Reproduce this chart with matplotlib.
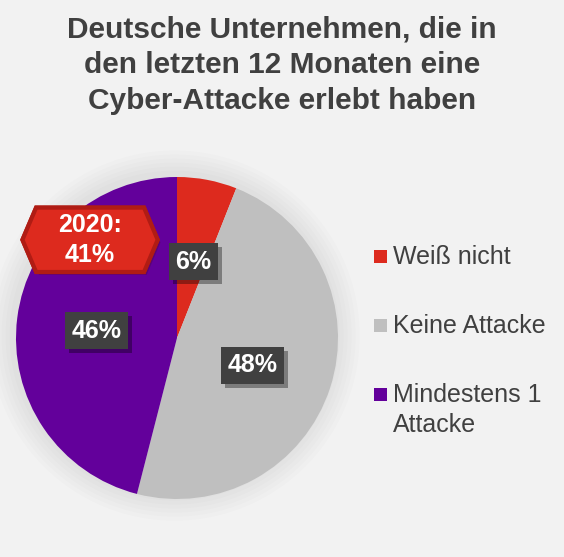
import matplotlib
matplotlib.use("Agg")
import matplotlib.pyplot as plt
from matplotlib.patches import Polygon, Rectangle, Circle
import matplotlib.patheffects as pe

plt.rcParams['font.family'] = ['Liberation Sans', 'DejaVu Sans']

# data
categories = ["Weiß nicht", "Keine Attacke", "Mindestens 1\nAttacke"]
values = [6, 48, 46]
colors = ["#dd2a1e", "#bfbfbf", "#63009b"]
label_texts = ["6%", "48%", "46%"]
prev_year_label = "2020:\n41%"
title = "Deutsche Unternehmen, die in\nden letzten 12 Monaten eine\nCyber-Attacke erlebt haben"

bg = "#f2f2f2"
W, H = 564, 557
fig = plt.figure(figsize=(W / 100, H / 100), dpi=100, facecolor=bg)

# pie axes: center (177, 338) px, radius 161 px
cx, cy, r = 177, 338, 161
ax = fig.add_axes([(cx - r) / W, (H - cy - r) / H, 2 * r / W, 2 * r / H])

# soft shadow behind the pie
for i in range(6):
    ax.add_patch(Circle((-0.015, 0.015), 1.0 + 0.025 * (i + 1), color="black", alpha=0.012,
                        lw=0, zorder=0, clip_on=False))

wedges, _ = ax.pie(values, colors=colors, startangle=90, counterclock=False,
                   radius=1.0, wedgeprops=dict(linewidth=0))
for w in wedges:
    w.set_zorder(1)
ax.set_xlim(-1, 1)
ax.set_ylim(-1, 1)
ax.set_aspect("equal")
ax.axis("off")

# value labels in dark boxes
label_pos = [(0.10, 0.475), (0.47, -0.17), (-0.50, 0.045)]
for txt, (x, y) in zip(label_texts, label_pos):
    t = ax.text(x, y, txt, ha="center", va="center", color="white",
                fontsize=18, fontweight="bold", zorder=5,
                bbox=dict(boxstyle="square,pad=0.26", fc="#404040", ec="none"))
    t.get_bbox_patch().set_path_effects(
        [pe.withSimplePatchShadow(offset=(3, -3), shadow_rgbFace="black", alpha=0.35),
         pe.Normal()])

# hexagon with last year's value
hx, hy, hw, hh, ind = -0.54, 0.61, 0.84, 0.40, 0.085
hex_pts = [(hx - hw / 2, hy), (hx - hw / 2 + ind, hy + hh / 2),
           (hx + hw / 2 - ind, hy + hh / 2), (hx + hw / 2, hy),
           (hx + hw / 2 - ind, hy - hh / 2), (hx - hw / 2 + ind, hy - hh / 2)]
hexagon = Polygon(hex_pts, closed=True, fc="#dd2a1e", ec="#b01c14", lw=3,
                  zorder=6, clip_on=False)
hexagon.set_path_effects([pe.withSimplePatchShadow(offset=(2, -2), alpha=0.25), pe.Normal()])
ax.add_patch(hexagon)
ax.text(hx, hy, prev_year_label, ha="center", va="center", color="white",
        fontsize=18, fontweight="bold", linespacing=1.3, zorder=7)

# title
fig.text(0.5, 1 - 16 / H, title, ha="center", va="top", fontsize=21.5,
         fontweight="bold", color="#404040", linespacing=1.33)

# legend
leg_y = [256, 325, 394]
for lab, col, y in zip(categories, colors, leg_y):
    fig.patches.append(Rectangle((374 / W, 1 - (y + 7) / H), 13 / W, 13 / H,
                                 transform=fig.transFigure, fc=col, ec="none"))
    fig.text(393 / W, 1 - (y - 11) / H, lab, ha="left", va="top", fontsize=18,
             color="#404040", linespacing=1.3)

fig.savefig("out.png", dpi=100, facecolor=bg)
